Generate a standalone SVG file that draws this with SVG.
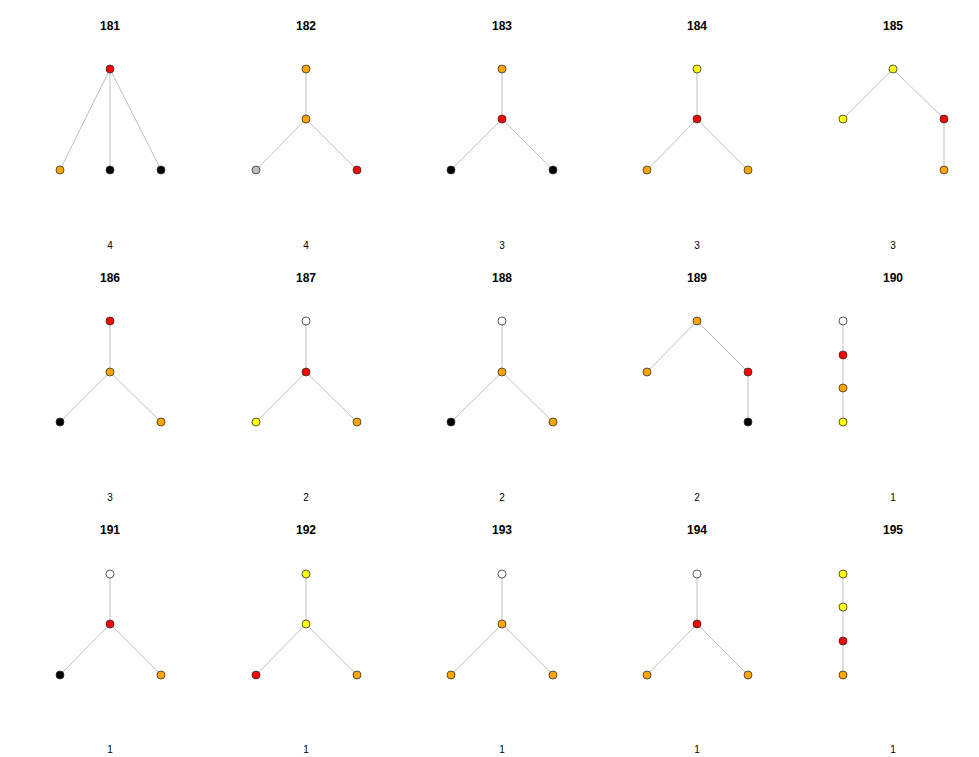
<svg xmlns="http://www.w3.org/2000/svg" width="979" height="757" viewBox="0 0 979 757">
<style>
.t{font-family:"Liberation Sans",Arial,sans-serif;font-size:12px;font-weight:bold;text-anchor:middle;fill:#000}
.l{font-family:"Liberation Sans",Arial,sans-serif;font-size:10px;text-anchor:middle;fill:#000}
.e{stroke:#c0c0c0;stroke-width:1;fill:none}
circle{stroke:#333;stroke-width:0.8}
.r{fill:#ff0000}.o{fill:#ffa500}.y{fill:#ffff00}.k{fill:#000}.w{fill:#fff}.g{fill:#bebebe}
</style>
<rect width="979" height="757" fill="#fff"/>
<g id="edges">
<path class="e" d="M110 69L60 170M110 69L110 170M110 69L161 170"/>
<path class="e" d="M306 69L306 119M306 119L256 170M306 119L357 170"/>
<path class="e" d="M502 69L502 119M502 119L451 170M502 119L553 170"/>
<path class="e" d="M697 69L697 119M697 119L647 170M697 119L748 170"/>
<path class="e" d="M893 69L843 119M893 69L944 119M944 119L944 170"/>
<path class="e" d="M110 321L110 372M110 372L60 422M110 372L161 422"/>
<path class="e" d="M306 321L306 372M306 372L256 422M306 372L357 422"/>
<path class="e" d="M502 321L502 372M502 372L451 422M502 372L553 422"/>
<path class="e" d="M697 321L647 372M697 321L748 372M748 372L748 422"/>
<path class="e" d="M843 321L843 422"/>
<path class="e" d="M110 574L110 624M110 624L60 675M110 624L161 675"/>
<path class="e" d="M306 574L306 624M306 624L256 675M306 624L357 675"/>
<path class="e" d="M502 574L502 624M502 624L451 675M502 624L553 675"/>
<path class="e" d="M697 574L697 624M697 624L647 675M697 624L748 675"/>
<path class="e" d="M843 574L843 675"/>
</g>
<g id="g181"><text class="t" x="110" y="30">181</text><text class="l" x="110" y="249">4</text>
<circle class="r" cx="110" cy="69" r="4"/><circle class="o" cx="60" cy="170" r="4"/><circle class="k" cx="110" cy="170" r="4"/><circle class="k" cx="161" cy="170" r="4"/></g>
<g id="g182"><text class="t" x="306" y="30">182</text><text class="l" x="306" y="249">4</text>
<circle class="o" cx="306" cy="69" r="4"/><circle class="o" cx="306" cy="119" r="4"/><circle class="g" cx="256" cy="170" r="4"/><circle class="r" cx="357" cy="170" r="4"/></g>
<g id="g183"><text class="t" x="502" y="30">183</text><text class="l" x="502" y="249">3</text>
<circle class="o" cx="502" cy="69" r="4"/><circle class="r" cx="502" cy="119" r="4"/><circle class="k" cx="451" cy="170" r="4"/><circle class="k" cx="553" cy="170" r="4"/></g>
<g id="g184"><text class="t" x="697" y="30">184</text><text class="l" x="697" y="249">3</text>
<circle class="y" cx="697" cy="69" r="4"/><circle class="r" cx="697" cy="119" r="4"/><circle class="o" cx="647" cy="170" r="4"/><circle class="o" cx="748" cy="170" r="4"/></g>
<g id="g185"><text class="t" x="893" y="30">185</text><text class="l" x="893" y="249">3</text>
<circle class="y" cx="893" cy="69" r="4"/><circle class="y" cx="843" cy="119" r="4"/><circle class="r" cx="944" cy="119" r="4"/><circle class="o" cx="944" cy="170" r="4"/></g>
<g id="g186"><text class="t" x="110" y="282">186</text><text class="l" x="110" y="501">3</text>
<circle class="r" cx="110" cy="321" r="4"/><circle class="o" cx="110" cy="372" r="4"/><circle class="k" cx="60" cy="422" r="4"/><circle class="o" cx="161" cy="422" r="4"/></g>
<g id="g187"><text class="t" x="306" y="282">187</text><text class="l" x="306" y="501">2</text>
<circle class="w" cx="306" cy="321" r="4"/><circle class="r" cx="306" cy="372" r="4"/><circle class="y" cx="256" cy="422" r="4"/><circle class="o" cx="357" cy="422" r="4"/></g>
<g id="g188"><text class="t" x="502" y="282">188</text><text class="l" x="502" y="501">2</text>
<circle class="w" cx="502" cy="321" r="4"/><circle class="o" cx="502" cy="372" r="4"/><circle class="k" cx="451" cy="422" r="4"/><circle class="o" cx="553" cy="422" r="4"/></g>
<g id="g189"><text class="t" x="697" y="282">189</text><text class="l" x="697" y="501">2</text>
<circle class="o" cx="697" cy="321" r="4"/><circle class="o" cx="647" cy="372" r="4"/><circle class="r" cx="748" cy="372" r="4"/><circle class="k" cx="748" cy="422" r="4"/></g>
<g id="g190"><text class="t" x="893" y="282">190</text><text class="l" x="893" y="501">1</text>
<circle class="w" cx="843" cy="321" r="4"/><circle class="r" cx="843" cy="355" r="4"/><circle class="o" cx="843" cy="388" r="4"/><circle class="y" cx="843" cy="422" r="4"/></g>
<g id="g191"><text class="t" x="110" y="534">191</text><text class="l" x="110" y="753">1</text>
<circle class="w" cx="110" cy="574" r="4"/><circle class="r" cx="110" cy="624" r="4"/><circle class="k" cx="60" cy="675" r="4"/><circle class="o" cx="161" cy="675" r="4"/></g>
<g id="g192"><text class="t" x="306" y="534">192</text><text class="l" x="306" y="753">1</text>
<circle class="y" cx="306" cy="574" r="4"/><circle class="y" cx="306" cy="624" r="4"/><circle class="r" cx="256" cy="675" r="4"/><circle class="o" cx="357" cy="675" r="4"/></g>
<g id="g193"><text class="t" x="502" y="534">193</text><text class="l" x="502" y="753">1</text>
<circle class="w" cx="502" cy="574" r="4"/><circle class="o" cx="502" cy="624" r="4"/><circle class="o" cx="451" cy="675" r="4"/><circle class="o" cx="553" cy="675" r="4"/></g>
<g id="g194"><text class="t" x="697" y="534">194</text><text class="l" x="697" y="753">1</text>
<circle class="w" cx="697" cy="574" r="4"/><circle class="r" cx="697" cy="624" r="4"/><circle class="o" cx="647" cy="675" r="4"/><circle class="o" cx="748" cy="675" r="4"/></g>
<g id="g195"><text class="t" x="893" y="534">195</text><text class="l" x="893" y="753">1</text>
<circle class="y" cx="843" cy="574" r="4"/><circle class="y" cx="843" cy="607" r="4"/><circle class="r" cx="843" cy="641" r="4"/><circle class="o" cx="843" cy="675" r="4"/></g>
</svg>
